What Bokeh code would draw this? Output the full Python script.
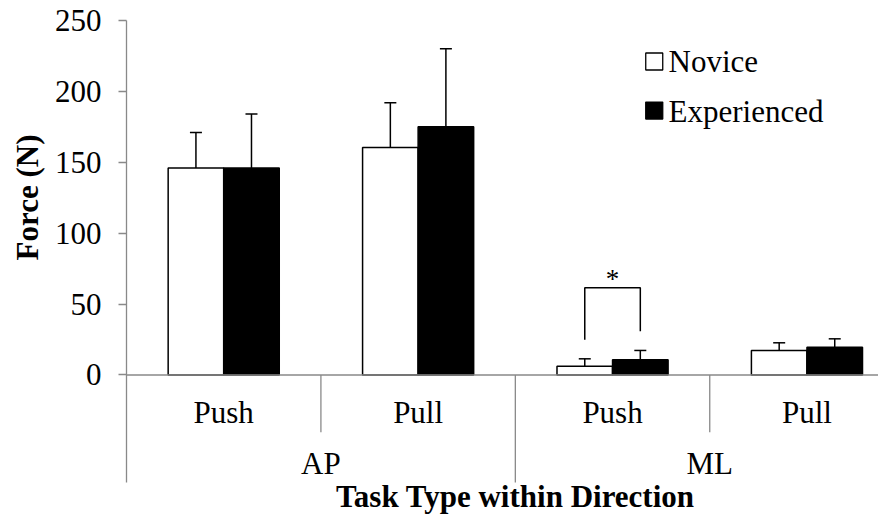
from bokeh.plotting import figure
from bokeh.models import (Range1d, FixedTicker, Span, Whisker, TeeHead,
                          ColumnDataSource, LabelSet, Title)
from bokeh.embed import file_html
from bokeh.resources import INLINE
from bokeh.core.properties import value

# ---- data ----
directions = ["AP", "ML"]
tasks = ["Push", "Pull", "Push", "Pull"]
groups = ["Novice", "Experienced"]
novice = [146.0, 160.5, 6.2, 17.3]
novice_err = [25.0, 31.5, 5.2, 5.4]
experienced = [146.0, 175.0, 10.7, 19.6]
experienced_err = [38.0, 55.0, 6.6, 5.9]
y_ticks = [0, 50, 100, 150, 200, 250]
y_title = "Force (N)"
x_title = "Task Type within Direction"
sig_index = 2          # ML / Push
sig_mark = "*"

FONT_NAME = "Liberation Serif, Times New Roman, Times, serif"
GRAY = "#898989"
FS = "31px"

n = len(tasks)
bw = 1 / 3.5
centers = [i + 0.5 for i in range(n)]
nx = [c - bw / 2 for c in centers]
ex = [c + bw / 2 for c in centers]

p = figure(width=878, height=515, output_backend="svg", toolbar_location=None,
           x_range=Range1d(0, 3.868), y_range=Range1d(-99.1, 250),
           x_axis_location=None, min_border_left=126, min_border_right=0,
           min_border_top=20, min_border_bottom=0)
p.outline_line_color = None
p.grid.visible = False
p.background_fill_color = "white"


def labels(xs, ys, texts, align="center", baseline="alphabetic", style="normal",
           size=FS):
    src = ColumnDataSource(dict(x=xs, y=ys, t=texts))
    p.add_layout(LabelSet(source=src, x="x", y="y", text="t",
                          text_font=value(FONT_NAME), text_font_size=value(size),
                          text_font_style=value(style),
                          text_align=align, text_baseline=baseline,
                          text_color="black"))


# bars
p.vbar(x=nx, top=novice, bottom=0, width=bw, fill_color="white",
       line_color="black", line_width=1.5)
p.vbar(x=ex, top=experienced, bottom=0, width=bw, fill_color="black",
       line_color="black", line_width=1.5)

# error bars (upper only)
src = ColumnDataSource(dict(
    base=nx + ex,
    lo=novice + experienced,
    hi=[v + e for v, e in zip(novice, novice_err)] +
       [v + e for v, e in zip(experienced, experienced_err)]))
p.add_layout(Whisker(source=src, base="base", lower="lo", upper="hi",
                     dimension="height", line_color="black", line_width=1.5,
                     upper_head=TeeHead(size=12, line_color="black", line_width=1.5),
                     lower_head=None))

# significance bracket
top_n = novice[sig_index] + novice_err[sig_index]
top_e = experienced[sig_index] + experienced_err[sig_index]
gap = 13.5
br_top = 61.5
p.line(x=[nx[sig_index], nx[sig_index], ex[sig_index], ex[sig_index]],
       y=[top_n + gap, br_top, br_top, top_e + gap],
       line_color="black", line_width=1.5)
labels([centers[sig_index]], [br_top - 0.5], [sig_mark], size="27px")

# y axis
ax = p.yaxis[0]
ax.ticker = FixedTicker(ticks=y_ticks)
ax.bounds = (-75.8, 250)
ax.axis_line_color = GRAY
ax.axis_line_width = 1.3
ax.major_tick_line_color = GRAY
ax.major_tick_line_width = 1.3
ax.major_tick_out = 8
ax.major_tick_in = 0
ax.minor_tick_line_color = None
ax.major_label_text_font = FONT_NAME
ax.major_label_text_font_size = FS
ax.major_label_text_color = "black"
ax.major_label_standoff = 17

# y-axis title: end of the text placed 114px below the frame top
p.add_layout(Title(text=y_title, align="right", offset=114, vertical_align="middle",
                   standoff=11, text_font=FONT_NAME, text_font_size=FS,
                   text_font_style="bold", text_color="black"), "left")

# category axis line and separators
p.add_layout(Span(location=0, dimension="width", line_color=GRAY, line_width=1.3))
bounds = [1, 2, 3]
p.segment(x0=bounds, y0=[0, 0, 0], x1=bounds, y1=[-40.3, -75.8, -40.3],
          line_color=GRAY, line_width=1.3)

labels(centers, [-34.0] * n, tasks)
labels([1, 3], [-69.5, -69.5], directions)
labels([2], [-93.2], [x_title], style="bold")

# legend
p.rect(x=[2.7145, 2.7145], y=[221.1, 186.5], width=17, height=17,
       width_units="screen", height_units="screen",
       fill_color=["white", "black"], line_color="black", line_width=1.3)
labels([2.788, 2.788], [213.6, 178.3], groups, align="left")

open("out.html", "w").write(file_html(p, INLINE))
